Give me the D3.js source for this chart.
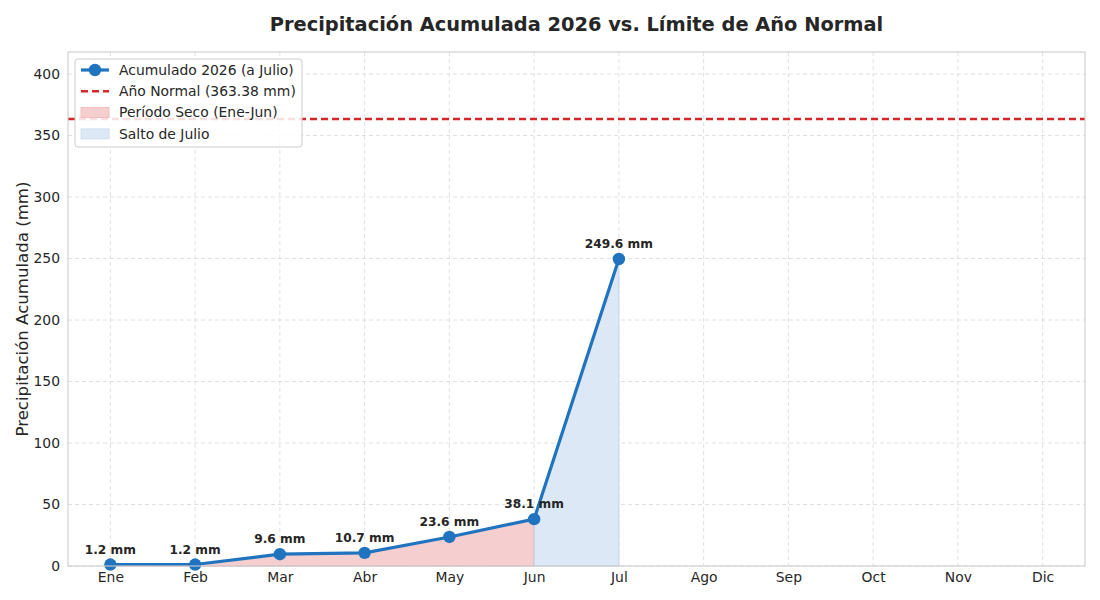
<!DOCTYPE html>
<html>
<head>
<meta charset="utf-8">
<script src="https://cdn.jsdelivr.net/npm/d3@7"></script>
<style>
  body { margin: 0; background: #fff; }
  text { font-family: "DejaVu Sans", sans-serif; fill: #262626; }
</style>
</head>
<body>
<div id="chart"></div>
<script>
var months = ["Ene", "Feb", "Mar", "Abr", "May", "Jun", "Jul", "Ago", "Sep", "Oct", "Nov", "Dic"];
var acumulado = [1.2, 1.2, 9.6, 10.7, 23.6, 38.1, 249.6];
var normalYear = 363.38;
var yTicks = [0, 50, 100, 150, 200, 250, 300, 350, 400];

var W = 1100, H = 600;
var margin = { top: 52, right: 15, bottom: 34, left: 68 },
    width = W - margin.left - margin.right,
    height = H - margin.top - margin.bottom;

var svg = d3.select("#chart").append("svg")
    .attr("width", W).attr("height", H);

var chart = svg.append("g")
    .attr("transform", "translate(" + margin.left + "," + margin.top + ")");

var x = d3.scaleLinear().domain([-0.5, 11.5]).range([0, width]);
var y = d3.scaleLinear().domain([0, normalYear * 1.15]).range([height, 0]);

// grid
chart.append("g").selectAll("line").data(yTicks).enter().append("line")
    .attr("x1", 0).attr("x2", width)
    .attr("y1", function (d) { return y(d); }).attr("y2", function (d) { return y(d); })
    .attr("stroke", "#dcdcdc").attr("stroke-dasharray", "4,3").attr("stroke-width", 0.9);
chart.append("g").selectAll("line").data(months).enter().append("line")
    .attr("y1", 0).attr("y2", height)
    .attr("x1", function (d, i) { return x(i); }).attr("x2", function (d, i) { return x(i); })
    .attr("stroke", "#dcdcdc").attr("stroke-dasharray", "4,3").attr("stroke-width", 0.9);

var pts = acumulado.map(function (v, i) { return { i: i, v: v }; });

var area = d3.area()
    .x(function (d) { return x(d.i); })
    .y0(y(0))
    .y1(function (d) { return y(d.v); });

// dry period fill
chart.append("path")
    .datum(pts.slice(0, 6))
    .attr("d", area)
    .attr("fill", "#f5cfcf")
    .attr("stroke", "#d9a0a8").attr("stroke-width", 0.8);

// july jump fill
chart.append("path")
    .datum(pts.slice(5, 7))
    .attr("d", area)
    .attr("fill", "#dce8f5")
    .attr("stroke", "#b7cde6").attr("stroke-width", 0.8);

// normal year line
chart.append("line")
    .attr("x1", 0).attr("x2", width)
    .attr("y1", y(normalYear)).attr("y2", y(normalYear))
    .attr("stroke", "#d62728").attr("stroke-width", 2.5)
    .attr("stroke-dasharray", "7,4");

// line
var lineColor = "#1f73bf";
chart.append("path")
    .datum(pts)
    .attr("d", d3.line().x(function (d) { return x(d.i); }).y(function (d) { return y(d.v); }))
    .attr("fill", "none").attr("stroke", lineColor).attr("stroke-width", 3.2);

chart.selectAll(".dot").data(pts).enter().append("circle")
    .attr("class", "dot")
    .attr("cx", function (d) { return x(d.i); })
    .attr("cy", function (d) { return y(d.v); })
    .attr("r", 6.2).attr("fill", lineColor);

chart.selectAll(".lbl").data(pts).enter().append("text")
    .attr("class", "lbl")
    .attr("x", function (d) { return x(d.i); })
    .attr("y", function (d) { return y(d.v) - 11; })
    .attr("text-anchor", "middle")
    .attr("font-size", "12.2px").attr("font-weight", "bold")
    .text(function (d) { return d.v.toFixed(1) + " mm"; });

// frame
chart.append("rect")
    .attr("width", width).attr("height", height)
    .attr("fill", "none").attr("stroke", "#cccccc").attr("stroke-width", 1.1);

// axes
var yAxis = chart.append("g")
    .call(d3.axisLeft(y).tickValues(yTicks).tickSize(0).tickPadding(8));
yAxis.select(".domain").remove();
yAxis.selectAll("text").attr("font-size", "13.9px").style("font-family", "DejaVu Sans").attr("fill", "#262626");

var xAxis = chart.append("g")
    .attr("transform", "translate(0," + height + ")")
    .call(d3.axisBottom(x).tickValues(d3.range(12)).tickFormat(function (d) { return months[d]; }).tickSize(0).tickPadding(6));
xAxis.select(".domain").remove();
xAxis.selectAll("text").attr("font-size", "13.9px").style("font-family", "DejaVu Sans").attr("fill", "#262626");

// y label
svg.append("text")
    .attr("transform", "translate(28," + (margin.top + height / 2) + ") rotate(-90)")
    .attr("text-anchor", "middle")
    .attr("font-size", "16.6px")
    .text("Precipitación Acumulada (mm)");

// title
svg.append("text")
    .attr("x", margin.left + width / 2).attr("y", 31)
    .attr("text-anchor", "middle")
    .attr("font-size", "19.4px").attr("font-weight", "bold")
    .text("Precipitación Acumulada 2026 vs. Límite de Año Normal");

// legend
var legend = chart.append("g").attr("transform", "translate(7,7)");
legend.append("rect")
    .attr("width", 227).attr("height", 88).attr("rx", 3)
    .attr("fill", "#fff").attr("fill-opacity", 0.85)
    .attr("stroke", "#cccccc");

var items = [
    { name: "Acumulado 2026 (a Julio)", type: "line" },
    { name: "Año Normal (363.38 mm)", type: "dash" },
    { name: "Período Seco (Ene-Jun)", type: "red" },
    { name: "Salto de Julio", type: "blue" }
];
var row = legend.selectAll(".item").data(items).enter().append("g")
    .attr("transform", function (d, i) { return "translate(6," + (11 + i * 21.3) + ")"; });
row.each(function (d) {
    var g = d3.select(this);
    if (d.type === "line") {
        g.append("line").attr("x1", 0).attr("x2", 28).attr("stroke", lineColor).attr("stroke-width", 3.2);
        g.append("circle").attr("cx", 14).attr("r", 6.2).attr("fill", lineColor);
    } else if (d.type === "dash") {
        g.append("line").attr("x1", 0).attr("x2", 28).attr("stroke", "#d62728")
            .attr("stroke-width", 2.5).attr("stroke-dasharray", "7,4");
    } else {
        g.append("rect").attr("x", 0).attr("y", -5).attr("width", 28).attr("height", 10)
            .attr("fill", d.type === "red" ? "#f5cfcf" : "#dce8f5")
            .attr("stroke", d.type === "red" ? "#eeb4b4" : "#c7d9ee").attr("stroke-width", 0.8);
    }
    g.append("text").attr("x", 38).attr("dy", "0.35em").attr("font-size", "13.9px").text(d.name);
});
</script>
</body>
</html>
